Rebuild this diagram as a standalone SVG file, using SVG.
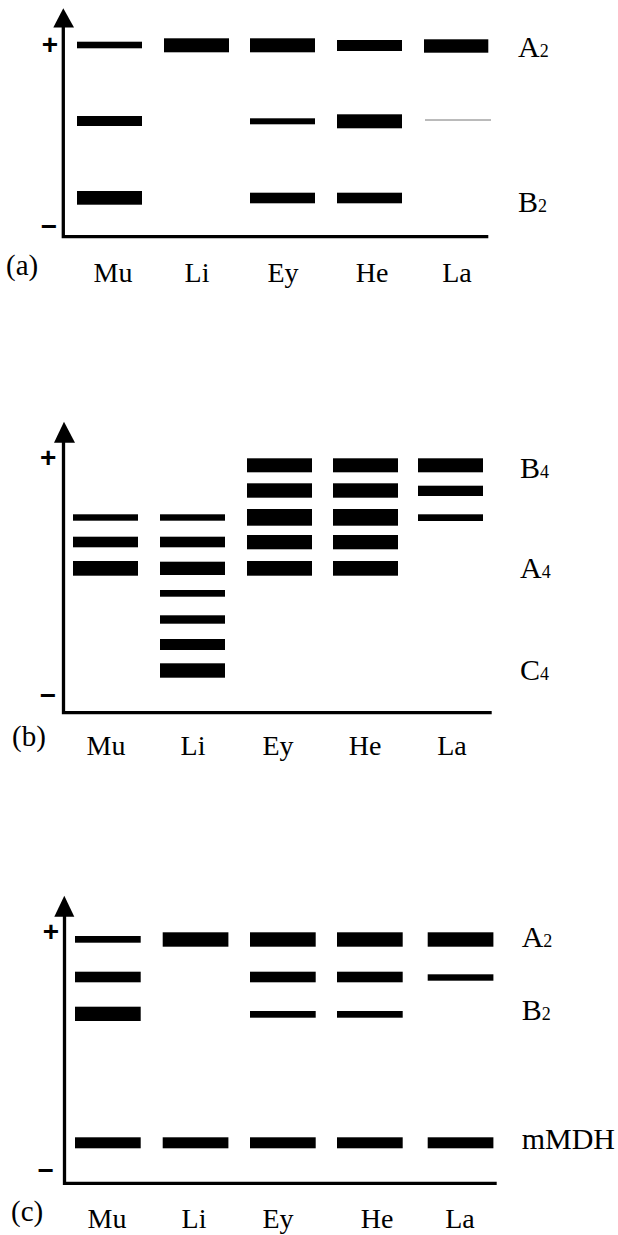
<svg xmlns="http://www.w3.org/2000/svg" width="618" height="1235" viewBox="0 0 618 1235">
<defs>
<style>
.ax{stroke:#000;stroke-width:3.3;fill:none}
.ah{fill:#000}
.b{fill:#000}
.lab{font-family:"Liberation Serif",serif;font-size:28px;fill:#000;text-anchor:middle}
.pl{font-family:"Liberation Serif",serif;font-size:29px;fill:#000}
.rl{font-family:"Liberation Serif",serif;font-size:30px;fill:#000}
.sub{font-size:18px}
.sg{font-family:"Liberation Sans",sans-serif;font-size:28px;font-weight:bold;fill:#000;text-anchor:middle}
</style>
</defs>
<rect width="618" height="1235" fill="#fff"/>

<g id="connectors">
  <g id="axes-a">
    <path class="ax" d="M63.3 26 V238.3 M61.7 236.7 H488.3"/>
    <polygon class="ah" points="63.3,8.3 74,27.5 53.3,27.5"/>
  </g>
  <g id="axes-b">
    <path class="ax" d="M63.5 441 V714.3 M61.9 712.7 H491.7"/>
    <polygon class="ah" points="64,421.7 75,442.7 54,442.7"/>
  </g>
  <g id="axes-c">
    <path class="ax" d="M64.5 915 V1185 M62.9 1183.3 H496.7"/>
    <polygon class="ah" points="64.3,895.7 74.3,916.7 54.3,916.7"/>
  </g>
</g>

<g id="panel-a">
  <text class="sg" x="50" y="53.5">+</text>
  <text class="sg" x="49" y="235.5">−</text>
  <text class="pl" x="6" y="275">(a)</text>
  <g id="a-labels">
    <text class="lab" x="113" y="282">Mu</text>
    <text class="lab" x="197" y="282">Li</text>
    <text class="lab" x="283" y="282">Ey</text>
    <text class="lab" x="372" y="282">He</text>
    <text class="lab" x="457" y="282">La</text>
  </g>
  <text class="rl" x="518" y="56.7">A<tspan class="sub">2</tspan></text>
  <text class="rl" x="518" y="211.7">B<tspan class="sub">2</tspan></text>
  <g id="a-bands">
    <rect class="b" x="77" y="41.7" width="65" height="6.6"/>
    <rect class="b" x="164" y="38.3" width="65" height="14"/>
    <rect class="b" x="250" y="38.3" width="65" height="14"/>
    <rect class="b" x="337" y="40" width="65" height="11"/>
    <rect class="b" x="424" y="39.3" width="64.3" height="13.4"/>
    <rect class="b" x="77" y="116" width="65" height="10"/>
    <rect class="b" x="250" y="118.3" width="65" height="6"/>
    <rect class="b" x="337" y="114.3" width="65" height="14"/>
    <line x1="425" y1="120" x2="491" y2="120" stroke="#777" stroke-width="1"/>
    <rect class="b" x="77" y="191" width="65" height="13.7"/>
    <rect class="b" x="250" y="192.7" width="65" height="10.6"/>
    <rect class="b" x="337" y="192.7" width="65" height="10.6"/>
  </g>
</g>

<g id="panel-b">
  <text class="sg" x="48.3" y="466.5">+</text>
  <text class="sg" x="48" y="704.5">−</text>
  <text class="pl" x="12" y="746">(b)</text>
  <g id="b-labels">
    <text class="lab" x="106" y="755">Mu</text>
    <text class="lab" x="193" y="755">Li</text>
    <text class="lab" x="278" y="755">Ey</text>
    <text class="lab" x="365" y="755">He</text>
    <text class="lab" x="452" y="755">La</text>
  </g>
  <text class="rl" x="520" y="477.7">B<tspan class="sub">4</tspan></text>
  <text class="rl" x="520" y="578.3">A<tspan class="sub">4</tspan></text>
  <text class="rl" x="520" y="680">C<tspan class="sub">4</tspan></text>
  <g id="b-bands">
    <rect class="b" x="73" y="514.3" width="65" height="6.4"/>
    <rect class="b" x="73" y="536.7" width="65" height="10.6"/>
    <rect class="b" x="73" y="561" width="65" height="14.7"/>
    <rect class="b" x="160" y="514.3" width="65" height="6.4"/>
    <rect class="b" x="160" y="536.7" width="65" height="10.6"/>
    <rect class="b" x="160" y="561.7" width="65" height="13.3"/>
    <rect class="b" x="160" y="590" width="65" height="6.7"/>
    <rect class="b" x="160" y="615.3" width="65" height="8.4"/>
    <rect class="b" x="160" y="639" width="65" height="11"/>
    <rect class="b" x="160" y="663.3" width="65" height="14.4"/>
    <rect class="b" x="247" y="458.3" width="65" height="14"/>
    <rect class="b" x="247" y="483.3" width="65" height="14.4"/>
    <rect class="b" x="247" y="509" width="65" height="16.7"/>
    <rect class="b" x="247" y="535" width="65" height="14.3"/>
    <rect class="b" x="247" y="561" width="65" height="14.7"/>
    <rect class="b" x="333" y="458.3" width="65" height="14"/>
    <rect class="b" x="333" y="483.3" width="65" height="14.4"/>
    <rect class="b" x="333" y="509" width="65" height="16.7"/>
    <rect class="b" x="333" y="535" width="65" height="14.3"/>
    <rect class="b" x="333" y="561" width="65" height="14.7"/>
    <rect class="b" x="418" y="458.3" width="65" height="14"/>
    <rect class="b" x="418" y="485.7" width="65" height="10.3"/>
    <rect class="b" x="418" y="514.3" width="65" height="6.7"/>
  </g>
</g>

<g id="panel-c">
  <text class="sg" x="51" y="941">+</text>
  <text class="sg" x="45.7" y="1179.5">−</text>
  <text class="pl" x="11" y="1221">(c)</text>
  <g id="c-labels">
    <text class="lab" x="107" y="1228">Mu</text>
    <text class="lab" x="194" y="1228">Li</text>
    <text class="lab" x="278" y="1228">Ey</text>
    <text class="lab" x="377" y="1228">He</text>
    <text class="lab" x="460" y="1228">La</text>
  </g>
  <text class="rl" x="521.7" y="946.7">A<tspan class="sub">2</tspan></text>
  <text class="rl" x="521.7" y="1020">B<tspan class="sub">2</tspan></text>
  <text class="rl" x="521.7" y="1149">mMDH</text>
  <g id="c-bands">
    <rect class="b" x="75" y="936" width="65.7" height="6.7"/>
    <rect class="b" x="162.7" y="932.3" width="65.7" height="14.4"/>
    <rect class="b" x="250" y="932.3" width="65.7" height="14.4"/>
    <rect class="b" x="337" y="932.3" width="65.7" height="14.4"/>
    <rect class="b" x="427.7" y="932.3" width="65.7" height="14.4"/>
    <rect class="b" x="75" y="971.7" width="65.7" height="10.6"/>
    <rect class="b" x="250" y="971.7" width="65.7" height="10.6"/>
    <rect class="b" x="337" y="971.7" width="65.7" height="10.6"/>
    <rect class="b" x="427.7" y="974.3" width="65.7" height="6.4"/>
    <rect class="b" x="75" y="1006.7" width="65.7" height="14.3"/>
    <rect class="b" x="250" y="1011" width="65.7" height="6.7"/>
    <rect class="b" x="337" y="1011" width="65.7" height="6.7"/>
    <rect class="b" x="75" y="1137.3" width="65.7" height="11"/>
    <rect class="b" x="162.7" y="1137.3" width="65.7" height="11"/>
    <rect class="b" x="250" y="1137.3" width="65.7" height="11"/>
    <rect class="b" x="337" y="1137.3" width="65.7" height="11"/>
    <rect class="b" x="427.7" y="1137.3" width="65.7" height="11"/>
  </g>
</g>
</svg>
